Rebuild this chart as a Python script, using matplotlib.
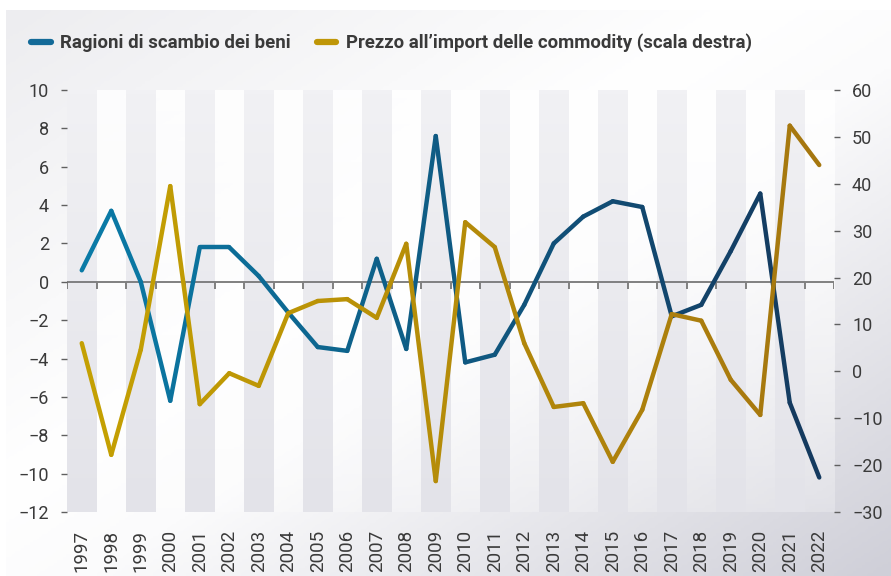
import numpy as np
import matplotlib
matplotlib.use("Agg")
from matplotlib import pyplot as plt
from matplotlib.collections import LineCollection
from matplotlib.colors import LinearSegmentedColormap, to_rgb
from matplotlib.lines import Line2D

# dati
anni = list(range(1997, 2023))
ragioni = [0.6, 3.7, 0.0, -6.2, 1.8, 1.8, 0.3, -1.6, -3.4, -3.6, 1.2, -3.5, 7.6,
           -4.2, -3.8, -1.2, 2.0, 3.4, 4.2, 3.9, -1.8, -1.2, 1.6, 4.6, -6.3, -10.2]
commodity = [6.0, -17.8, 4.6, 39.5, -7.0, -0.4, -3.1, 12.4, 15.0, 15.4, 11.4, 27.2, -23.4,
             31.8, 26.5, 6.0, -7.6, -6.8, -19.3, -8.2, 12.2, 10.8, -1.8, -9.3, 52.4, 44.0]
etichette = ["Ragioni di scambio dei beni", "Prezzo all\u2019import delle commodity (scala destra)"]

plt.rcParams['font.family'] = ['Roboto', 'DejaVu Sans']
testo = '#3a3a3a'

fig = plt.figure(figsize=(8.91, 5.76), dpi=100)
fig.patch.set_facecolor('white')

# sfondo sfumato
bg = fig.add_axes([6/891, 0, 1 - 6/891, 1 - 10/576], zorder=-10)
xx, yy = np.meshgrid(np.linspace(0, 1, 300), np.linspace(0, 1, 200))
t = (xx + yy) / 2
cm_bg = LinearSegmentedColormap.from_list('bg', [(0, '#ededf0'), (0.42, '#ffffff'),
                                                  (0.55, '#fbfbfc'), (1, '#cfcfd8')])
bg.imshow(t, cmap=cm_bg, aspect='auto', extent=[0, 1, 1, 0], vmin=0, vmax=1)
bg.axis('off')

ax = fig.add_axes([67/891, 1 - 512/576, (834 - 67)/891, (512 - 90)/576])
ax.patch.set_alpha(0)
x = np.arange(len(anni))

# bande verticali alternate
ymin, ymax = -12, 10
grad = np.linspace(0, 1, 100)[:, None]
grigio = np.zeros((100, 1, 4))
c_top, c_bot = np.array(to_rgb('#f1f1f4')), np.array(to_rgb('#e3e3e9'))
grigio[:, 0, :3] = c_top * (1 - grad) + c_bot * grad
grigio[:, 0, 3] = 1
bianco = np.ones((100, 1, 4))
bianco[:, 0, 3] = 0.85 * (1 - grad[:, 0]) + 0.25 * grad[:, 0]
for i in x:
    img = grigio if i % 2 == 0 else bianco
    ax.imshow(img, extent=[i - 0.5, i + 0.5, ymin, ymax], aspect='auto', zorder=0)

# asse dello zero con tacche
ax.axhline(0, color='#808080', lw=1.4, zorder=1)
ax.vlines(np.append(x - 0.5, x[-1] + 0.5), -0.35, 0, color='#808080', lw=1.4, zorder=1)

ax.set_xlim(-0.5, len(anni) - 0.5)
ax.set_ylim(ymin, ymax)
ax.set_yticks(range(-12, 11, 2))
ax.set_xticks(x)
ax.set_xticklabels([str(a) for a in anni], rotation=90)
ax.tick_params(axis='x', length=0, pad=13, labelsize=13.5, labelcolor=testo)
ax.tick_params(axis='y', length=4, width=1, color='#606060', pad=9, labelsize=13, labelcolor=testo)
for s in ax.spines.values():
    s.set_visible(False)

ax2 = ax.twinx()
ax2.set_ylim(-30, 60)
ax2.set_yticks(range(-30, 61, 10))
ax2.tick_params(axis='y', length=4, width=1, color='#606060', pad=9, labelsize=13, labelcolor=testo)
for s in ax2.spines.values():
    s.set_visible(False)


def linea_sfumata(axe, xv, yv, c0, c1):
    pts = np.column_stack([xv, yv])
    segs = np.stack([pts[:-1], pts[1:]], axis=1)
    f = np.linspace(0, 1, len(segs))[:, None]
    cols = np.array(to_rgb(c0)) * (1 - f) + np.array(to_rgb(c1)) * f
    lc = LineCollection(segs, colors=cols, linewidths=3.2, capstyle='round', joinstyle='round', zorder=3)
    axe.add_collection(lc)


linea_sfumata(ax, x, ragioni, '#0a7aa6', '#143a5f')
linea_sfumata(ax2, x, commodity, '#c4a002', '#a6770f')

handles = [Line2D([], [], color='#136a98', lw=4.5, solid_capstyle='round'),
           Line2D([], [], color='#bf9607', lw=4.5, solid_capstyle='round')]
fig.legend(handles, etichette, loc='center left', bbox_to_anchor=(31/891, 1 - 43/576), ncol=2,
           frameon=False, handlelength=1.05, handletextpad=0.5, columnspacing=1.4,
           prop={'weight': 'bold', 'size': 13.4}, labelcolor='#3a3a3a', borderaxespad=0,
           borderpad=0)

fig.savefig('out.png', dpi=100)
